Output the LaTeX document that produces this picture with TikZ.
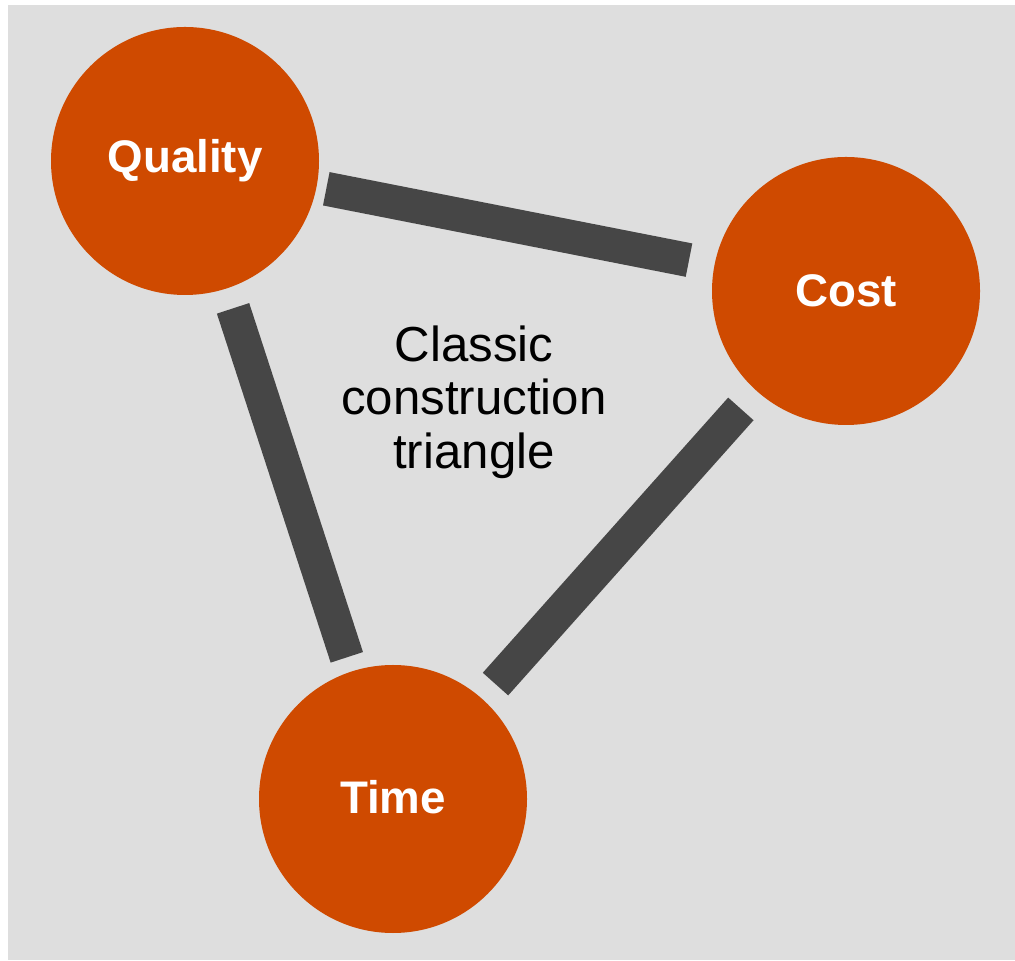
\documentclass[tikz,border=0pt]{standalone}
\usepackage{fontspec}
\setmainfont{Liberation Sans}
\usepackage{xcolor}
\definecolor{rust}{RGB}{207,74,0}
\definecolor{bargray}{RGB}{70,70,70}
\definecolor{backgray}{RGB}{222,222,222}
\usepackage{tikz}
\usetikzlibrary{positioning}
\tikzstyle{corner} = [
    circle,
    minimum size=5.36cm,
    inner sep=0pt,
    outer sep=0pt,
    fill=rust,
    text=white,
    font=\fontsize{26}{30}\selectfont\bfseries,
]
\tikzstyle{bar} = [
    line width=0.68cm,
    draw=bargray,
    line cap=butt,
]
\tikzstyle{caption} = [
    align=center,
    text=black,
    font=\fontsize{28}{30.5}\selectfont,
]

\begin{document}
\begin{tikzpicture}
    % background
    \fill [white] (0,0) rectangle (20.3,19.2);
    \fill [backgray] (0.16,0) rectangle (20.3,19.1);
    \useasboundingbox (0,0) rectangle (20.3,19.2);

    % corners
    \node (quality) at (3.70, 15.98) [corner] {Quality};
    \node (cost) at (16.92, 13.38) [corner] {Cost};
    \node (time) at (7.86, 3.22) [corner] {\raisebox{0.1cm}{Time}};

    % caption
    \node (label) at (9.48, 11.16) [caption] {Classic\\construction\\triangle};

    % bars
    \foreach \a/\b/\s/\e in {quality/cost/0.2/0.52, quality/time/0.42/0.3, cost/time/0.48/0.4} {
        \draw [bar, shorten <=\s cm, shorten >=\e cm] (\a) -- (\b);
    }
\end{tikzpicture}
\end{document}
